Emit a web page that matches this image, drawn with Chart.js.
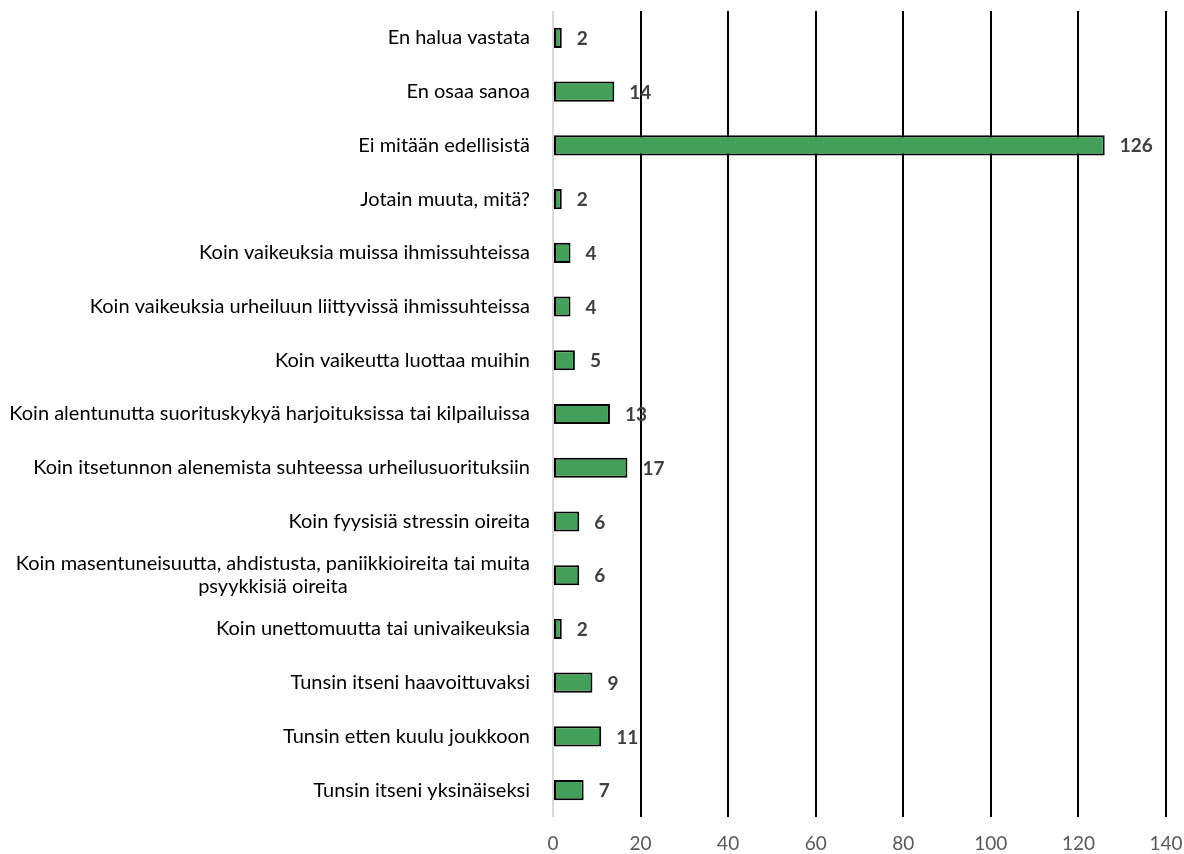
<!DOCTYPE html>
<html>
<head>
<meta charset="utf-8">
<script src="https://cdn.jsdelivr.net/npm/chart.js@4"></script>
<style>
  body { margin: 0; background: #fff; }
</style>
</head>
<body>
<canvas id="chart" width="1184" height="854"></canvas>
<script>
const categories = [
  'En halua vastata',
  'En osaa sanoa',
  'Ei mitään edellisistä',
  'Jotain muuta, mitä?',
  'Koin vaikeuksia muissa ihmissuhteissa',
  'Koin vaikeuksia urheiluun liittyvissä ihmissuhteissa',
  'Koin vaikeutta luottaa muihin',
  'Koin alentunutta suorituskykyä harjoituksissa tai kilpailuissa',
  'Koin itsetunnon alenemista suhteessa urheilusuorituksiin',
  'Koin fyysisiä stressin oireita',
  ['Koin masentuneisuutta, ahdistusta, paniikkioireita tai muita', 'psyykkisiä oireita'],
  'Koin unettomuutta tai univaikeuksia',
  'Tunsin itseni haavoittuvaksi',
  'Tunsin etten kuulu joukkoon',
  'Tunsin itseni yksinäiseksi'
];
const counts = [2, 14, 126, 2, 4, 4, 5, 13, 17, 6, 6, 2, 9, 11, 7];
const xTicks = [0, 20, 40, 60, 80, 100, 120, 140];

const fontFamily = 'Lato, "Open Sans", sans-serif';

// value labels next to each bar
const valueLabels = {
  id: 'valueLabels',
  afterDatasetsDraw(chart) {
    const ctx = chart.ctx;
    const meta = chart.getDatasetMeta(0);
    ctx.save();
    ctx.font = 'bold 19px ' + fontFamily;
    ctx.fillStyle = '#404040';
    ctx.textAlign = 'left';
    ctx.textBaseline = 'middle';
    meta.data.forEach((bar, i) => {
      ctx.fillText(String(counts[i]), bar.x + 15, bar.y + 1);
    });
    ctx.restore();
  }
};

// category labels: right aligned, wrapped lines centred on each other (like Excel)
const categoryLabels = {
  id: 'categoryLabels',
  afterDraw(chart) {
    const ctx = chart.ctx;
    const yScale = chart.scales.y;
    const right = yScale.right - 23;
    const lineH = 23;
    ctx.save();
    ctx.font = '20px ' + fontFamily;
    ctx.fillStyle = '#000000';
    ctx.textBaseline = 'middle';
    chart.data.labels.forEach((label, i) => {
      const y = yScale.getPixelForTick(i);
      const lines = Array.isArray(label) ? label : [label];
      const widest = Math.max(...lines.map(l => ctx.measureText(l).width));
      const cx = right - widest / 2;
      ctx.textAlign = 'center';
      lines.forEach((line, j) => {
        ctx.fillText(line, cx, y + (j - (lines.length - 1) / 2) * lineH);
      });
    });
    ctx.restore();
  }
};

const ctx = document.getElementById('chart').getContext('2d');
const myChart = new Chart(ctx, {
  type: 'bar',
  data: {
    labels: categories,
    datasets: [{
      data: counts,
      backgroundColor: '#43a05a',
      borderColor: '#000000',
      borderWidth: 2,
      borderSkipped: false,
      barPercentage: 0.75,
      categoryPercentage: 0.5
    }]
  },
  options: {
    indexAxis: 'y',
    responsive: false,
    animation: false,
    layout: { autoPadding: false, padding: { left: 10, right: 18, top: 11, bottom: 0 } },
    scales: {
      x: {
        min: 0,
        max: 140,
        afterBuildTicks: (scale) => { scale.ticks = xTicks.map(v => ({ value: v })); },
        afterFit: (scale) => {
          scale.height = 37;
          scale.paddingLeft = 0;
          scale.paddingRight = 0;
        },
        border: { display: false },
        grid: {
          color: (c) => c.tick && c.tick.value === 0 ? '#d9d9d9' : '#000000',
          lineWidth: 2,
          drawTicks: false
        },
        ticks: {
          color: '#595959',
          font: { family: fontFamily, size: 19 },
          padding: 15
        }
      },
      y: {
        afterFit: (scale) => {
          scale.width = 543;
          scale.paddingTop = 0;
          scale.paddingBottom = 0;
        },
        border: { display: false },
        grid: { display: false },
        ticks: {
          display: false,
          autoSkip: false
        }
      }
    },
    plugins: {
      legend: { display: false },
      tooltip: { enabled: false }
    }
  },
  plugins: [valueLabels, categoryLabels]
});
</script>
</body>
</html>
